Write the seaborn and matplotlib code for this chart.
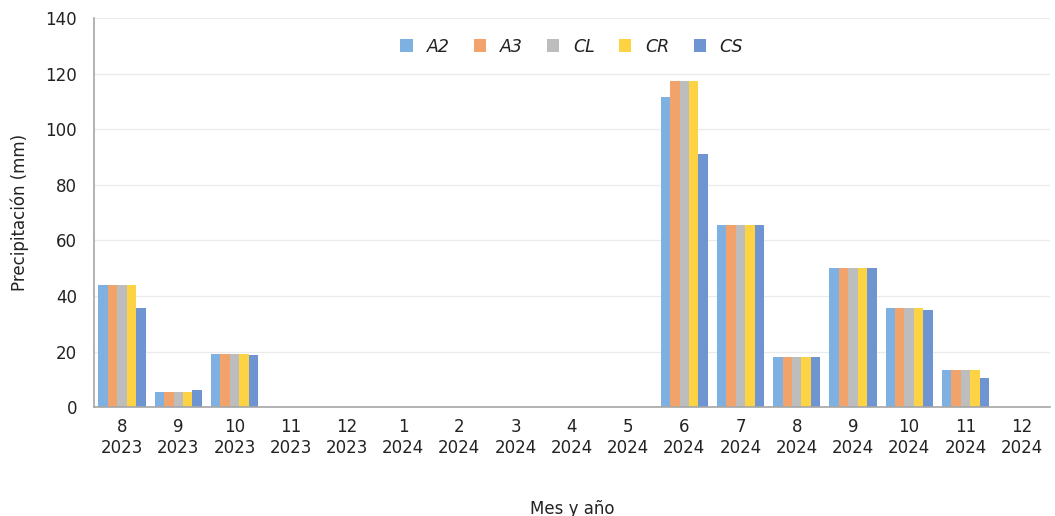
import matplotlib
matplotlib.use("Agg")
import matplotlib.pyplot as plt
import seaborn as sns
import pandas as pd

months = ["8\n2023", "9\n2023", "10\n2023", "11\n2023", "12\n2023", "1\n2024", "2\n2024",
          "3\n2024", "4\n2024", "5\n2024", "6\n2024", "7\n2024", "8\n2024", "9\n2024",
          "10\n2024", "11\n2024", "12\n2024"]
A2 = [44, 5.3, 19, 0, 0, 0, 0, 0, 0, 0, 111.6, 65.7, 18, 50, 35.7, 13.3, 0]
A3 = [44, 5.3, 19, 0, 0, 0, 0, 0, 0, 0, 117.5, 65.7, 18, 50, 35.7, 13.3, 0]
CL = [44, 5.3, 19, 0, 0, 0, 0, 0, 0, 0, 117.5, 65.7, 18, 50, 35.7, 13.3, 0]
CR = [44, 5.3, 19, 0, 0, 0, 0, 0, 0, 0, 117.5, 65.7, 18, 50, 35.7, 13.3, 0]
CS = [35.6, 6.1, 18.6, 0, 0, 0, 0, 0, 0, 0, 91, 65.7, 18, 50, 35.1, 10.5, 0]
series = {"A2": A2, "A3": A3, "CL": CL, "CR": CR, "CS": CS}
colors = ["#7EB1E1", "#F2A36C", "#BDBDBD", "#FDD243", "#6E94D2"]

rows = []
for name, vals in series.items():
    for m, v in zip(months, vals):
        rows.append({"Mes": m, "Serie": name, "Valor": v})
df = pd.DataFrame(rows)

sns.set_theme(style="white")
plt.rcParams["font.family"] = ["DejaVu Sans"]

fig = plt.figure(figsize=(10.55, 5.16), dpi=100)
ax = fig.add_axes([0.089, 0.211, 0.906, 0.754])
sns.barplot(data=df, x="Mes", y="Valor", hue="Serie", order=months,
            hue_order=list(series.keys()), palette=colors, width=0.84,
            saturation=1, ax=ax, edgecolor="none", linewidth=0)

ax.set_ylim(0, 140)
ax.set_yticks(range(0, 141, 20))
ax.set_xlim(-0.5, len(months) - 0.5)
ax.yaxis.grid(True, color="#EBEBEB", linewidth=1)
ax.set_axisbelow(True)
for s in ["top", "right"]:
    ax.spines[s].set_visible(False)
ax.spines["left"].set_color("#A6A6A6")
ax.spines["bottom"].set_color("#A6A6A6")
ax.spines["left"].set_linewidth(1.2)
ax.spines["bottom"].set_linewidth(1.2)
ax.tick_params(axis="x", length=0, labelsize=12, colors="#222222", pad=8)
ax.tick_params(axis="y", length=0, labelsize=12, colors="#222222", pad=12)
ax.set_ylabel("Precipitación (mm)", fontsize=12, color="#222222", labelpad=12)
ax.set_xlabel("Mes y año", fontsize=12, color="#222222", labelpad=31)

leg = ax.legend(loc="upper center", bbox_to_anchor=(0.5, 0.99), ncol=5, frameon=False,
                handlelength=0.7, handleheight=0.7, handletextpad=0.8, columnspacing=1.4,
                prop={"style": "italic", "size": 12.5})
for t in leg.get_texts():
    t.set_color("#222222")

fig.savefig("out.png", dpi=100)
